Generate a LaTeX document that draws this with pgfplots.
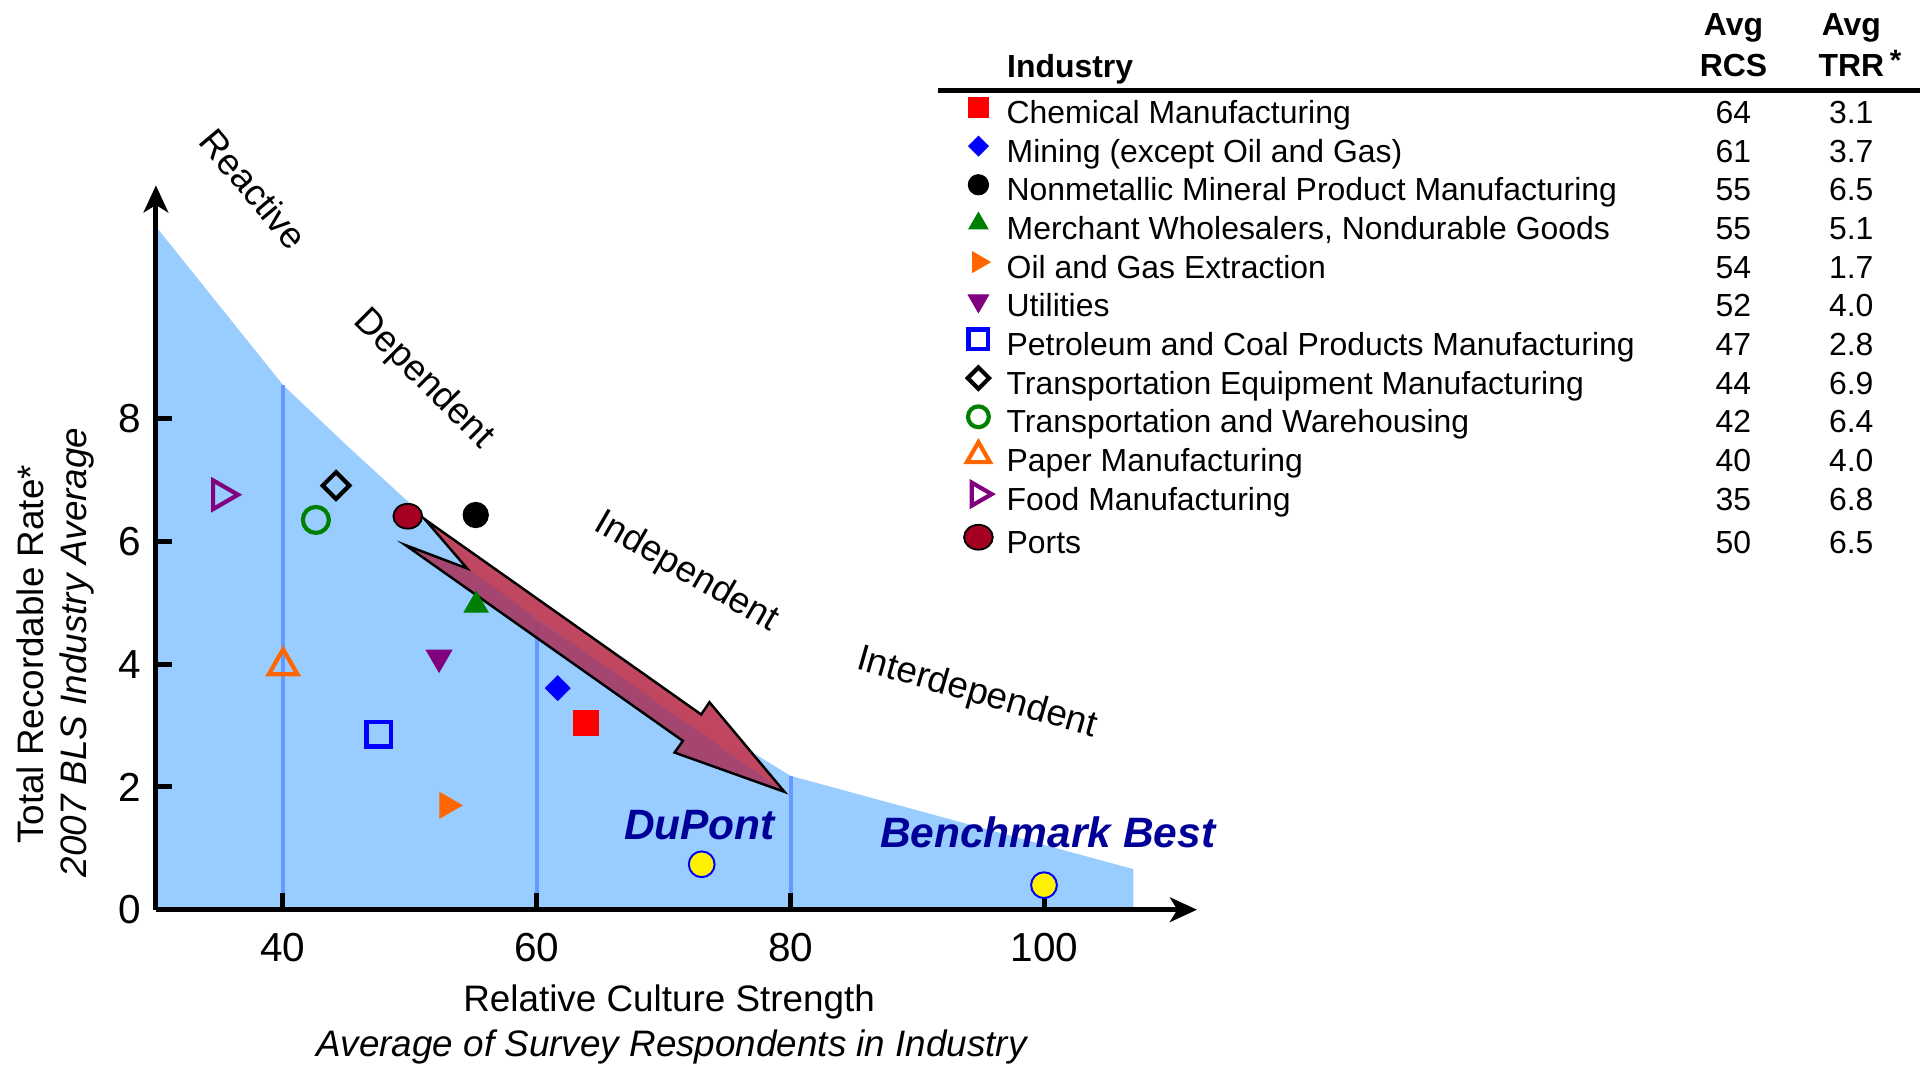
\documentclass[border=0pt]{standalone}
\usepackage{pgfplots}
\pgfplotsset{compat=1.18}
\usepackage{fontspec}
\setmainfont{Liberation Sans}
\usetikzlibrary{arrows.meta}
\newcommand{\mscale}{1}
\newcommand{\imgtop}{5pt}
\newcommand{\fs}[1]{\fontsize{#1}{#1}\selectfont}
\newcommand{\entry}[3]{\makebox[272pt][l]{#1}\makebox[48pt]{#2}\makebox[48pt]{#3}}
\definecolor{areablue}{HTML}{99CCFF}
\definecolor{lineblue}{HTML}{6699FF}
\definecolor{aorange}{HTML}{FF6600}
\definecolor{apurple}{HTML}{800080}
\definecolor{agreen}{HTML}{008000}
\definecolor{portsred}{HTML}{A50021}
\definecolor{arrowlight}{HTML}{C4475F}
\definecolor{arrowdark}{HTML}{A63860}
\definecolor{dpblue}{HTML}{000099}
\begin{document}
\begin{tikzpicture}
\begin{axis}[
  set layers,
  at={(63.5pt,63pt)}, anchor=south west,
  scale only axis, width=424pt, height=295pt,
  xmin=30, xmax=112, ymin=0, ymax=11.8,
  axis lines=left,
  axis line style={line width=2pt},
  x axis line style={-{Stealth[length=11pt,width=10pt,inset=3pt]}},
  y axis line style={-{Stealth[length=11pt,width=10pt,inset=3pt]}},
  xtick={40,60,80,100}, ytick={0,2,4,6,8},
  tick align=inside, major tick length=6.7pt,
  tick style={line width=2pt, black},
  ticklabel style={font=\fs{16.5}},
  /pgf/number format/assume math mode=true,
  xticklabel style={yshift=-6pt},
  yticklabel style={xshift=-2.5pt},
  clip=false,
  legend cell align=left,
  legend style={at={(axis description cs:0.77358,1.12966)}, anchor=north west,
    draw=none, fill=none, inner sep=0pt, outer sep=0pt,
    row sep=2.75pt, column sep=4.5pt, font=\fs{13},
    nodes={inner sep=0pt, text height=13pt, text depth=0pt}},
  legend image code/.code={\def\mscale{0.8}\path[draw=none,fill=none] (-7pt,-5pt) rectangle (7pt,\imgtop);\draw[#1] plot coordinates {(0pt,0pt)};},
]
% shaded region
\addplot[on layer=axis background, fill=areablue, draw=none, forget plot] coordinates {
 (30,0) (30,11.13) (35,9.84) (40,8.55) (45,7.57) (50,6.62) (55,5.66) (60,4.70) (70,3.44) (80,2.18) (107,0.66) (107,0)};
\addplot[on layer=axis background, lineblue, line width=1.6pt, forget plot] coordinates {(40,0) (40,8.55)};
\addplot[on layer=axis background, lineblue, line width=1.6pt, forget plot] coordinates {(60,0) (60,4.70)};
\addplot[on layer=axis background, lineblue, line width=1.6pt, forget plot] coordinates {(80,0) (80,2.18)};
% industries
\addplot[only marks, mark=square*, mark size=5pt, red, mark options={scale=\mscale}] coordinates {(63.86,3.04)};
\addlegendentry{\entry{Chemical Manufacturing}{64}{3.1}}
\addplot[only marks, mark=square*, mark size=3.54pt, blue, mark options={scale=\mscale, rotate=45}] coordinates {(61.65,3.61)};
\addlegendentry{\entry{Mining (except Oil and Gas)}{61}{3.7}}
\addplot[only marks, mark=*, mark size=5.15pt, black, mark options={scale=\mscale}] coordinates {(55.19,6.43)};
\addlegendentry{\entry{Nonmetallic Mineral Product Manufacturing}{55}{6.5}}
\addplot[only marks, mark=triangle*, mark size=5.6pt, agreen, mark options={scale=\mscale}] coordinates {(55.22,4.96)};
\addlegendentry{\entry{Merchant Wholesalers, Nondurable Goods}{55}{5.1}}
\addplot[only marks, mark=triangle*, mark size=6pt, aorange, mark options={scale=\mscale, rotate=-90}] coordinates {(52.94,1.70)};
\addlegendentry{\entry{Oil and Gas Extraction}{54}{1.7}}
\addplot[only marks, mark=triangle*, mark size=6pt, apurple, mark options={scale=\mscale, rotate=180}] coordinates {(52.3,4.11)};
\addlegendentry{\entry{Utilities}{52}{4.0}}
\addplot[only marks, mark=square, mark size=5pt, blue, mark options={scale=\mscale, line width=1.8pt}] coordinates {(47.57,2.86)};
\addlegendentry{\entry{Petroleum and Coal Products Manufacturing}{47}{2.8}}
\addplot[only marks, mark=square, mark size=3.84pt, black, mark options={scale=\mscale, rotate=45, line width=1.7pt}] coordinates {(44.19,6.91)};
\addlegendentry{\entry{Transportation Equipment Manufacturing}{44}{6.9}}
\addplot[only marks, mark=o, mark size=5.3pt, agreen, mark options={scale=\mscale, line width=1.7pt}] coordinates {(42.6,6.35)};
\addlegendentry{\entry{Transportation and Warehousing}{42}{6.4}}
\addplot[only marks, mark=triangle, mark size=6.75pt, aorange, mark options={scale=\mscale, line width=1.7pt}] coordinates {(40.02,3.97)};
\addlegendentry{\entry{Paper Manufacturing}{40}{4.0}}
\addplot[only marks, mark=triangle, mark size=6.75pt, apurple, mark options={scale=\mscale, rotate=-90, line width=1.7pt}] coordinates {(35.16,6.76)};
\addlegendentry{\entry{Food Manufacturing}{35}{6.8}}
\addplot[only marks, mark=*, mark size=5.05pt, mark options={xscale=1.16, fill=portsred, draw=black, line width=0.75pt},
  /utils/exec={\def\imgtop{8.3pt}}] coordinates {(49.84,6.41)};
\addlegendentry{\entry{Ports}{50}{6.5}}
% DuPont and benchmark
\addplot[only marks, mark=*, mark size=5.25pt, mark options={fill=yellow, draw=blue, line width=0.8pt}, forget plot] coordinates {(72.99,0.74)};
\addplot[only marks, mark=*, mark size=5.25pt, mark options={fill=yellow, draw=blue, line width=0.8pt}, forget plot] coordinates {(99.95,0.40)};
% block arrow
\fill[arrowdark, fill opacity=0.9] (51.18,6.36) -- (72.95,3.18) -- (73.6,3.38) -- (79.51,1.92) -- (70.85,2.56) -- (71.51,2.75) -- (49.65,5.94) -- (54.51,5.56) -- cycle;
\fill[arrowlight, fill opacity=0.9] (51.18,6.36) -- (72.95,3.18) -- (73.6,3.38) -- (79.51,1.92) -- (54.51,5.56) -- cycle;
\draw[black, line width=1pt, line join=miter] (51.18,6.36) -- (72.95,3.18) -- (73.6,3.38) -- (79.51,1.92) -- (70.85,2.56) -- (71.51,2.75) -- (49.65,5.94) -- (54.51,5.56) -- cycle;
\end{axis}
% table header
\node[anchor=base west, inner sep=0pt, font=\bfseries\fs{13}] at (410pt,401.85pt) {Industry};
\node[anchor=base, inner sep=0pt, font=\bfseries\fs{13}] at (706pt,419pt) {Avg};
\node[anchor=base, inner sep=0pt, font=\bfseries\fs{13}] at (706pt,402.25pt) {RCS};
\node[anchor=base, inner sep=0pt, font=\bfseries\fs{13}] at (754pt,419pt) {Avg};
\node[anchor=base, inner sep=0pt, font=\bfseries\fs{13}] at (754pt,402.25pt) {TRR};
\node[anchor=center, inner sep=0pt, font=\bfseries\fs{12}] at (772pt,409.1pt) {*};
\draw[line width=2.25pt] (382pt,396.65pt) -- (782pt,396.65pt);
% stage labels
\node[anchor=base, inner sep=0pt, rotate=-50, font=\fs{15}] at (99.3pt,352.95pt) {Reactive};
\node[anchor=base, inner sep=0pt, rotate=-45, font=\fs{15}] at (169.65pt,276.3pt) {Dependent};
\node[anchor=base, inner sep=0pt, rotate=-30, font=\fs{15}] at (277.6pt,197.1pt) {Independent};
\node[anchor=base, inner sep=0pt, rotate=-16, font=\fs{15}] at (396.75pt,147.25pt) {Interdependent};
% DuPont / Benchmark labels
\node[anchor=base, inner sep=0pt, text=dpblue, font=\bfseries\itshape\fs{17.3}] at (284.9pt,91.5pt) {DuPont};
\node[anchor=base, inner sep=0pt, text=dpblue, font=\bfseries\itshape\fs{17.3}] at (426.7pt,88.2pt) {Benchmark Best};
% axis titles
\node[anchor=base, inner sep=0pt, font=\fs{15}] at (272.5pt,21.5pt) {Relative Culture Strength};
\node[anchor=base, inner sep=0pt, font=\itshape\fs{15}] at (273.6pt,3.15pt) {Average of Survey Respondents in Industry};
\node[anchor=base, inner sep=0pt, rotate=90, font=\fs{15}] at (17.6pt,167pt) {Total Recordable Rate*};
\node[anchor=base, inner sep=0pt, rotate=90, font=\itshape\fs{15}] at (35.25pt,167.75pt) {2007 BLS Industry Average};
\pgfresetboundingbox
\path[use as bounding box] (0,0) rectangle (784pt,433.5pt);
\end{tikzpicture}
\end{document}
